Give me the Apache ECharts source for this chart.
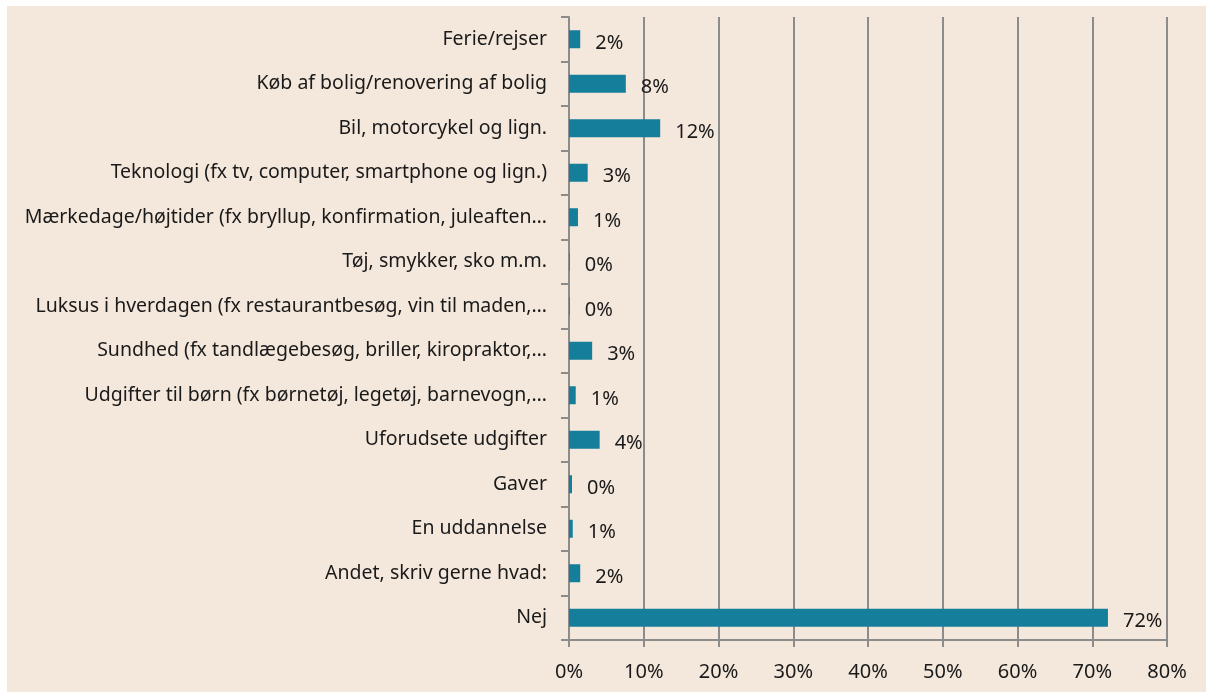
<!DOCTYPE html>
<html>
<head>
<meta charset="utf-8">
<script src="https://cdn.jsdelivr.net/npm/echarts@6/dist/echarts.min.js"></script>
<style>
    html, body { margin: 0; padding: 0; background: #ffffff; }
    #main { position: absolute; left: 7px; top: 6px; width: 1199px; height: 686px; background: #f4e8dc; }
</style>
</head>
<body>
<div id="main"></div>
<script>
// categories, top to bottom
let categories = [
    'Ferie/rejser',
    'Køb af bolig/renovering af bolig',
    'Bil, motorcykel og lign.',
    'Teknologi (fx tv, computer, smartphone og lign.)',
    'Mærkedage/højtider (fx bryllup, konfirmation, juleaften…',
    'Tøj, smykker, sko m.m.',
    'Luksus i hverdagen (fx restaurantbesøg, vin til maden,…',
    'Sundhed (fx tandlægebesøg, briller, kiropraktor,…',
    'Udgifter til børn (fx børnetøj, legetøj, barnevogn,…',
    'Uforudsete udgifter',
    'Gaver',
    'En uddannelse',
    'Andet, skriv gerne hvad:',
    'Nej'
]
let values = [1.5, 7.6, 12.2, 2.5, 1.2, 0.1, 0.1, 3.1, 0.9, 4.1, 0.4, 0.5, 1.5, 72.1]
let valueLabels = ['2%', '8%', '12%', '3%', '1%', '0%', '0%', '3%', '1%', '4%', '0%', '1%', '2%', '72%']
let xTicks = [0, 10, 20, 30, 40, 50, 60, 70, 80]

let fontFamily = '"Noto Sans", "Open Sans", sans-serif'
let gray = '#8c8c8c'

let chart = echarts.init(document.getElementById('main'))
let option = {
    animation: false,
    grid: {
        left: 562,
        top: 11,
        right: 39,
        bottom: 52
    },
    xAxis: {
        type: 'value',
        min: xTicks[0],
        max: xTicks[xTicks.length - 1],
        interval: xTicks[1] - xTicks[0],
        axisLine: { show: true, lineStyle: { color: gray, width: 2 } },
        axisTick: { show: true, length: 7, lineStyle: { color: gray, width: 2 } },
        splitLine: { show: true, lineStyle: { color: gray, width: 2 } },
        axisLabel: {
            formatter: '{value}%',
            margin: 22,
            color: '#1a1a1a',
            fontSize: 20,
            fontFamily: fontFamily
        }
    },
    yAxis: {
        type: 'category',
        inverse: true,
        data: categories,
        axisLine: { show: true, lineStyle: { color: gray, width: 2 } },
        axisTick: { show: true, length: 8, lineStyle: { color: gray, width: 2 } },
        axisLabel: {
            margin: 22,
            padding: [5, 0, 0, 0],
            color: '#1a1a1a',
            fontSize: 19.5,
            fontFamily: fontFamily
        }
    },
    series: [
        {
            type: 'bar',
            data: values,
            barWidth: 18,
            itemStyle: { color: '#147e9b' },
            label: {
                show: true,
                position: 'right',
                distance: 15,
                offset: [0, 4],
                color: '#1a1a1a',
                fontSize: 20,
                fontFamily: fontFamily,
                formatter: function (p) {
                    return valueLabels[p.dataIndex]
                }
            },
            silent: true
        }
    ]
}
chart.setOption(option)
</script>
</body>
</html>
